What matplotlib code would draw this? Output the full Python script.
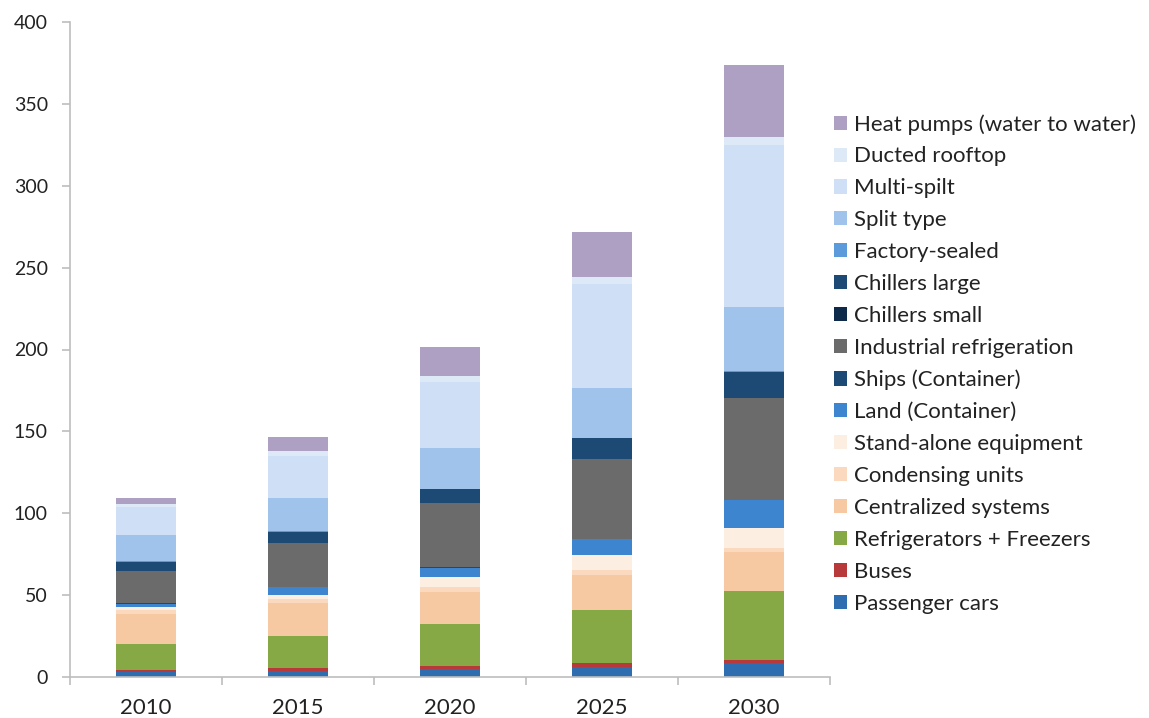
import matplotlib
matplotlib.use("Agg")
import matplotlib.pyplot as plt
import numpy as np

plt.rcParams['font.family'] = ['Lato', 'DejaVu Sans']

years = ["2010", "2015", "2020", "2025", "2030"]

# Stacked series, bottom to top
passenger_cars = [2.9, 3.9, 4.7, 6.3, 8.7]
buses = [1.4, 1.8, 2.0, 2.1, 1.8]
refrigerators_freezers = [15.7, 19.3, 25.5, 32.5, 41.9]
centralized_systems = [18.5, 20.0, 20.0, 21.4, 24.0]
condensing_units = [2.5, 2.4, 2.5, 3.0, 2.4]
stand_alone = [1.5, 2.7, 6.2, 9.3, 12.0]
land_container = [2.2, 4.7, 5.8, 9.4, 17.0]
ships_container = [0.3, 0.3, 0.3, 0.3, 0.3]
industrial_refrigeration = [19.9, 26.5, 39.1, 48.8, 62.3]
chillers_small = [0.1, 0.1, 0.1, 0.1, 0.1]
chillers_large = [5.4, 7.0, 8.6, 12.6, 15.9]
factory_sealed = [0.2, 0.3, 0.3, 0.4, 0.4]
split_type = [16.1, 20.1, 24.9, 30.5, 39.0]
multi_split = [17.3, 25.9, 40.4, 63.3, 99.3]
ducted_rooftop = [1.6, 3.2, 3.6, 4.5, 4.9]
heat_pumps = [3.5, 8.2, 17.3, 27.1, 43.7]

series = [
    ("Passenger cars", passenger_cars, "#2E6DB0"),
    ("Buses", buses, "#B8393A"),
    ("Refrigerators + Freezers", refrigerators_freezers, "#86A845"),
    ("Centralized systems", centralized_systems, "#F7C9A3"),
    ("Condensing units", condensing_units, "#FBD9BE"),
    ("Stand-alone equipment", stand_alone, "#FDEEE2"),
    ("Land (Container)", land_container, "#3E85D0"),
    ("Ships (Container)", ships_container, "#1C4A74"),
    ("Industrial refrigeration", industrial_refrigeration, "#6B6B6B"),
    ("Chillers small", chillers_small, "#0E2A4B"),
    ("Chillers large", chillers_large, "#1C4A74"),
    ("Factory-sealed", factory_sealed, "#5B9BDB"),
    ("Split type", split_type, "#9FC3EA"),
    ("Multi-spilt", multi_split, "#CFE0F6"),
    ("Ducted rooftop", ducted_rooftop, "#DDE9F6"),
    ("Heat pumps (water to water)", heat_pumps, "#ADA0C2"),
]

fig = plt.figure(figsize=(11.49, 7.18), dpi=100)
ax = fig.add_axes([70 / 1149, 1 - 677 / 718, 760 / 1149, 655 / 718])

x = np.arange(len(years))
bottom = np.zeros(len(years))
handles = []
for name, vals, color in series:
    vals = np.array(vals, dtype=float)
    b = ax.bar(x, vals, width=0.40, bottom=bottom, color=color, label=name,
               edgecolor="none")
    handles.append(b)
    bottom += vals

ax.set_xlim(-0.5, len(years) - 0.5)
ax.set_ylim(0, 400)
ax.set_yticks(np.arange(0, 401, 50))
ax.set_xticks(x)
ax.set_xticklabels(years)
ax.set_xticks(np.arange(-0.5, len(years), 1.0), minor=True)

for side in ("top", "right"):
    ax.spines[side].set_visible(False)
for side in ("left", "bottom"):
    ax.spines[side].set_color("#BDBDBD")
    ax.spines[side].set_linewidth(1.2)

ax.tick_params(axis="y", which="major", length=6, width=1.2, color="#BDBDBD",
               labelsize=14, pad=10, labelcolor="#222222")
ax.tick_params(axis="x", which="major", length=0, labelsize=16, pad=15,
               labelcolor="#222222")
ax.tick_params(axis="x", which="minor", length=6, width=1.2, color="#BDBDBD")

leg = fig.legend(handles[::-1], [s[0] for s in series][::-1],
                 loc="upper left", bbox_to_anchor=(834 / 1149, 1 - 114 / 718),
                 frameon=False, fontsize=16, handlelength=0.6,
                 handleheight=0.6, handletextpad=0.3, labelspacing=0.535,
                 borderaxespad=0, borderpad=0)
for t in leg.get_texts():
    t.set_color("#222222")

fig.savefig("out.png", dpi=100)
